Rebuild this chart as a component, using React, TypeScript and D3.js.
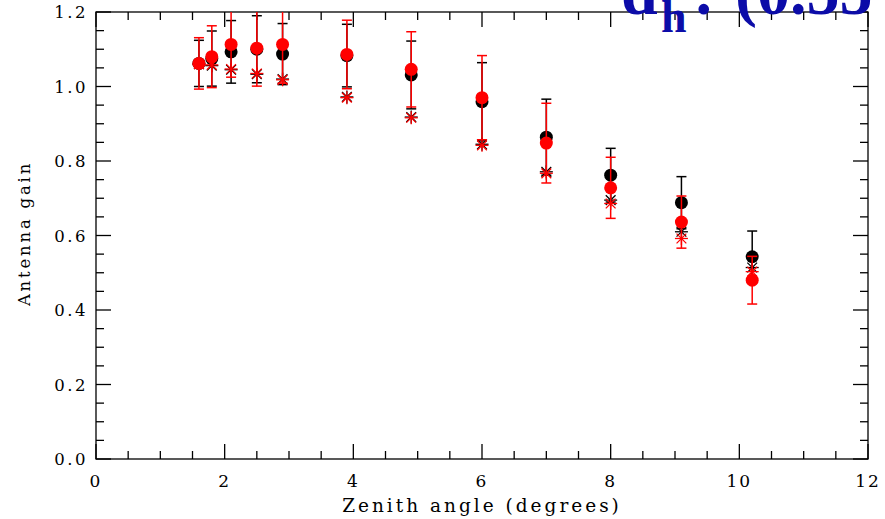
import React, { useEffect, useRef } from "react";
import * as d3 from "d3";

const zenith = [1.6, 1.8, 2.1, 2.5, 2.9, 3.9, 4.9, 6.0, 7.0, 8.0, 9.1, 10.2];
const blackGain = [1.062, 1.075, 1.093, 1.100, 1.087, 1.083, 1.031, 0.959, 0.864, 0.762, 0.688, 0.543];
const blackErr = [0.062, 0.074, 0.084, 0.090, 0.082, 0.084, 0.091, 0.105, 0.102, 0.072, 0.070, 0.069];
const redGain = [1.062, 1.080, 1.113, 1.103, 1.113, 1.086, 1.046, 0.970, 0.848, 0.728, 0.636, 0.480];
const redErr = [0.069, 0.083, 0.088, 0.102, 0.104, 0.092, 0.101, 0.113, 0.107, 0.082, 0.070, 0.064];
const blackStar = [1.060, 1.056, 1.045, 1.033, 1.020, 0.972, 0.918, 0.845, 0.771, 0.695, 0.610, 0.514];
const redStar = [1.060, 1.058, 1.047, 1.035, 1.018, 0.970, 0.916, 0.842, 0.767, 0.686, 0.592, 0.503];
const xTicks = [0, 2, 4, 6, 8, 10, 12];
const yTicks = [0.0, 0.2, 0.4, 0.6, 0.8, 1.0, 1.2];

const W = 885, H = 519;
const L = 96, R = 868, T = 12, B = 459;

export default function App() {
  const ref = useRef<SVGSVGElement>(null);
  useEffect(() => {
    const svg = d3.select(ref.current);
    svg.selectAll("*").remove();
    const x = d3.scaleLinear().domain([0, 12]).range([L, R]);
    const y = d3.scaleLinear().domain([0, 1.2]).range([B, T]);
    const font = "'DejaVu Serif', serif";
    const ax = svg.append("g").attr("stroke", "#000").attr("stroke-width", 1.3).attr("fill", "none");
    ax.append("rect").attr("x", L).attr("y", T).attr("width", R - L).attr("height", B - T);
    const xMinor = d3.range(0, 12.001, 0.5);
    xMinor.forEach((v) => {
      const major = Math.abs(v / 2 - Math.round(v / 2)) < 1e-6;
      const len = major ? 15 : 8;
      ax.append("line").attr("x1", x(v)).attr("x2", x(v)).attr("y1", B).attr("y2", B - len);
      ax.append("line").attr("x1", x(v)).attr("x2", x(v)).attr("y1", T).attr("y2", T + len);
    });
    const yMinor = d3.range(0, 1.2001, 0.05);
    yMinor.forEach((v) => {
      const major = Math.abs(v / 0.2 - Math.round(v / 0.2)) < 1e-6;
      const len = major ? 15 : 8;
      ax.append("line").attr("y1", y(v)).attr("y2", y(v)).attr("x1", L).attr("x2", L + len);
      ax.append("line").attr("y1", y(v)).attr("y2", y(v)).attr("x1", R).attr("x2", R - len);
    });
    const lab = svg.append("g").attr("font-family", font).attr("fill", "#000");
    xTicks.forEach((v) => {
      lab.append("text").attr("x", x(v)).attr("y", 487).attr("text-anchor", "middle")
        .attr("font-size", 17).attr("letter-spacing", 2).text(String(v));
    });
    yTicks.forEach((v) => {
      lab.append("text").attr("x", 88).attr("y", y(v) + 6).attr("text-anchor", "end")
        .attr("font-size", 16.5).attr("letter-spacing", 2.5).text(v.toFixed(1));
    });
    lab.append("text").attr("x", x(6)).attr("y", 512).attr("text-anchor", "middle")
      .attr("font-size", 18.5).attr("letter-spacing", 3).text("Zenith angle (degrees)");
    lab.append("text").attr("transform", `translate(30, ${y(0.6) - 2}) rotate(-90)`).attr("text-anchor", "middle")
      .attr("font-size", 16.5).attr("letter-spacing", 2.8).text("Antenna gain");

    const plot = svg.append("g");
    const drawSeries = (vals: number[], errs: number[], stars: number[], color: string) => {
      const g = plot.append("g");
      zenith.forEach((z, i) => {
        const cx = x(z);
        const top = Math.min(vals[i] + errs[i], 1.2);
        const bot = vals[i] - errs[i];
        g.append("line").attr("x1", cx).attr("x2", cx).attr("y1", y(top)).attr("y2", y(bot))
          .attr("stroke", color).attr("stroke-width", 1.5);
        if (vals[i] + errs[i] <= 1.2)
          g.append("line").attr("x1", cx - 5).attr("x2", cx + 5).attr("y1", y(vals[i] + errs[i])).attr("y2", y(vals[i] + errs[i]))
            .attr("stroke", color).attr("stroke-width", 1.5);
        g.append("line").attr("x1", cx - 5).attr("x2", cx + 5).attr("y1", y(bot)).attr("y2", y(bot))
          .attr("stroke", color).attr("stroke-width", 1.5);
      });
      zenith.forEach((z, i) => {
        const cx = x(z), cy = y(stars[i]);
        const s = 6.5;
        const st = g.append("g").attr("stroke", color).attr("stroke-width", 1.3);
        st.append("line").attr("x1", cx - s).attr("x2", cx + s).attr("y1", cy).attr("y2", cy);
        st.append("line").attr("x1", cx).attr("x2", cx).attr("y1", cy - s).attr("y2", cy + s);
        st.append("line").attr("x1", cx - s * 0.75).attr("x2", cx + s * 0.75).attr("y1", cy - s * 0.75).attr("y2", cy + s * 0.75);
        st.append("line").attr("x1", cx - s * 0.75).attr("x2", cx + s * 0.75).attr("y1", cy + s * 0.75).attr("y2", cy - s * 0.75);
      });
      zenith.forEach((z, i) => {
        g.append("circle").attr("cx", x(z)).attr("cy", y(vals[i])).attr("r", 6.5).attr("fill", color);
      });
    };
    drawSeries(blackGain, blackErr, blackStar, "#000");
    drawSeries(redGain, redErr, redStar, "#ff0000");

    const tg = svg.append("g").attr("fill", "#0c0ca8").attr("font-family", "'Liberation Serif', serif").attr("font-weight", "bold");
    tg.append("text").attr("x", 621).attr("y", 14).attr("font-size", 66).text("d");
    tg.append("text").attr("x", 661).attr("y", 32).attr("font-size", 46).text("h");
    tg.append("text").attr("x", 693).attr("y", 14).attr("font-size", 66).text(":");
    tg.append("text").attr("x", 735).attr("y", 14).attr("font-size", 66).text("(0.55");
  }, []);
  return (
    <svg ref={ref} width={W} height={H} style={{ position: "absolute", left: 0, top: 0, background: "#fff" }} />
  );
}
